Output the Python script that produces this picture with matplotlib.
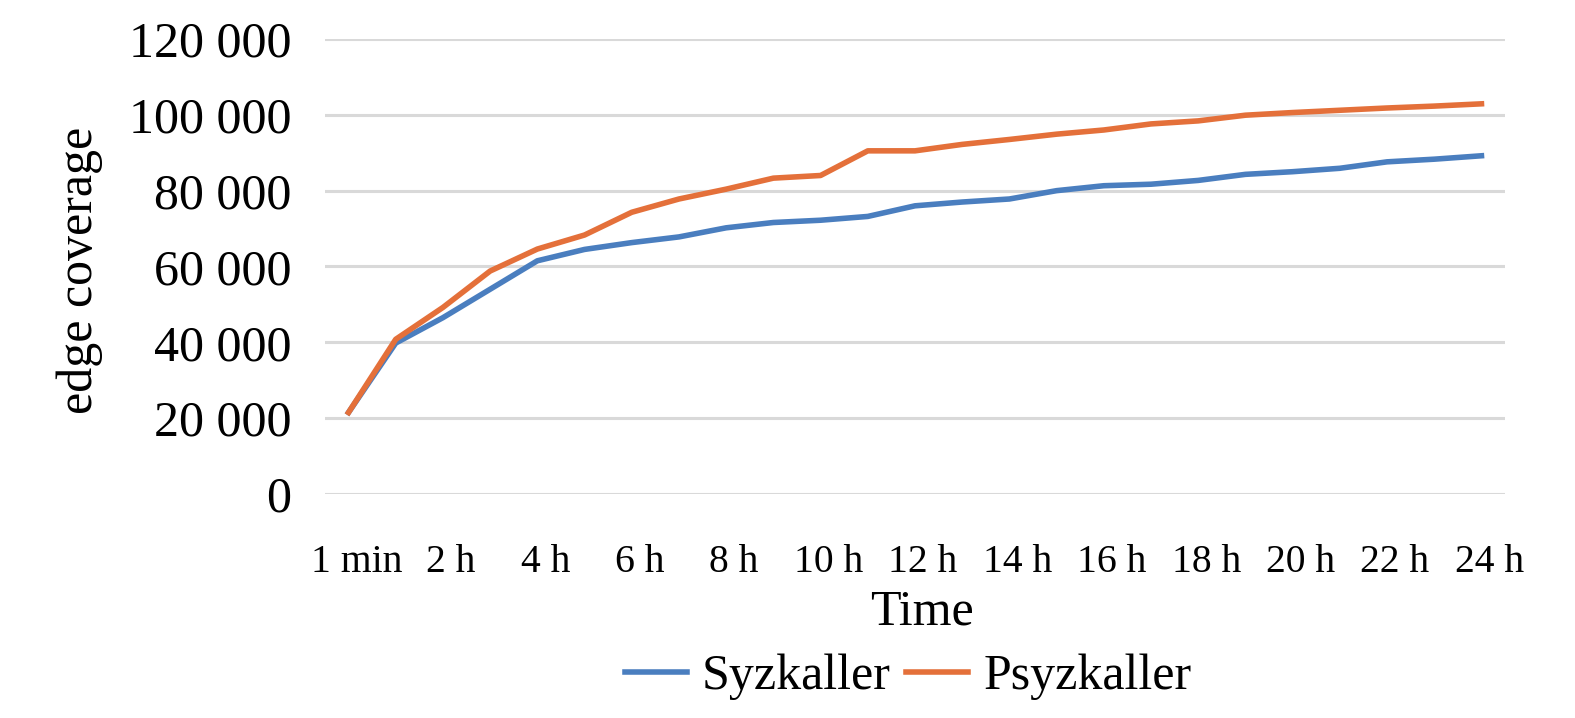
import matplotlib
matplotlib.use('Agg')
import matplotlib.pyplot as plt
import matplotlib.transforms as mtransforms
import numpy as np

time_labels = ['1 min'] + [f'{h} h' for h in range(1, 25)]
syzkaller = [21500, 39800, 46500, 54000, 61500, 64500, 66300, 67800, 70200, 71600,
             72200, 73200, 76000, 77000, 77800, 80000, 81300, 81700, 82700, 84300,
             85000, 85900, 87600, 88300, 89200]
psyzkaller = [21500, 40800, 49200, 58800, 64600, 68300, 74300, 77800, 80400, 83300,
              84000, 90500, 90500, 92200, 93500, 94900, 96000, 97600, 98400, 99900,
              100600, 101200, 101800, 102300, 102900]
y_ticks = [0, 20000, 40000, 60000, 80000, 100000, 120000]

plt.rcParams['font.family'] = ['Liberation Serif', 'DejaVu Serif']

fig = plt.figure(figsize=(15.75, 7.18), dpi=100)
ax = fig.add_axes([0.2063, 0.312, 0.7493, 0.6337])

x = np.arange(len(time_labels))
ax.plot(x, syzkaller, color='#4A7EBF', linewidth=4, label='Syzkaller')
ax.plot(x, psyzkaller, color='#E4703A', linewidth=4, label='Psyzkaller')

ax.set_xlim(-0.5, len(time_labels) - 0.5)
ax.set_ylim(0, 120000)
ax.set_yticks(y_ticks)
ax.set_yticklabels([f'{v:,}'.replace(',', ' ') for v in y_ticks], fontsize=36)
ax.set_xticks(x[::2])
ax.set_xticklabels(time_labels[::2], fontsize=28.5)
ax.tick_params(axis='both', length=0)
ax.tick_params(axis='y', pad=24)
ax.tick_params(axis='x', pad=36)
shift = mtransforms.ScaledTranslation(8 / 100, 0, fig.dpi_scale_trans)
for lbl in ax.get_xticklabels():
    lbl.set_transform(lbl.get_transform() + shift)
ax.grid(axis='y', color='#D9D9D9', linewidth=2.2)
ax.set_axisbelow(True)
for s in ax.spines.values():
    s.set_visible(False)

fig.text(922 / 1575, 1 - 612 / 718, 'Time', fontsize=36, ha='center', va='center')
fig.text(80 / 1575, 1 - 270 / 718, 'edge coverage', fontsize=36, ha='center', va='center',
         rotation=90)

fig.legend(loc='center', bbox_to_anchor=(908 / 1575, 1 - 677 / 718), ncol=2, frameon=False,
           fontsize=36, handlelength=1.25, handletextpad=0.3, columnspacing=0.3,
           borderpad=0)

plt.savefig('out.png', dpi=100)
